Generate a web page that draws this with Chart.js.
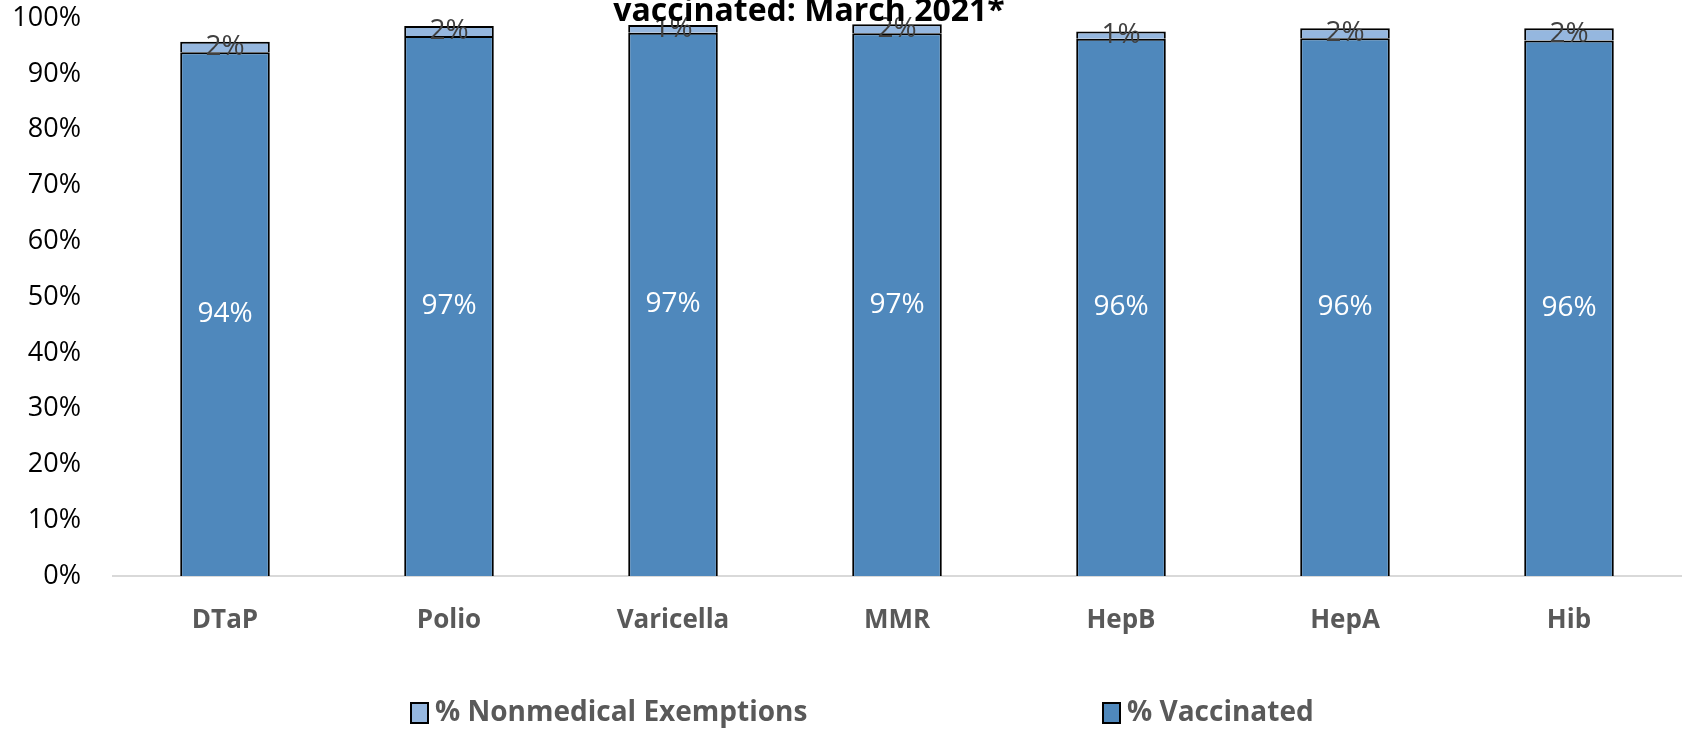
<!DOCTYPE html>
<html>
<head>
<meta charset="utf-8">
<script src="https://cdn.jsdelivr.net/npm/chart.js@4/dist/chart.umd.min.js"></script>
<style>
html, body { margin: 0; padding: 0; background: #fff; }
</style>
</head>
<body>
<canvas id="chartVaccins" width="1684" height="731"></canvas>
<script>
var titleLine = "vaccinated: March 2021*";
var categories = ["DTaP", "Polio", "Varicella", "MMR", "HepB", "HepA", "Hib"];
var vaccinated = [93.9, 96.8, 97.4, 97.3, 96.3, 96.4, 96.0];
var exemptions = [1.9, 1.8, 1.4, 1.6, 1.3, 1.8, 2.2];
var yTicks = [0, 10, 20, 30, 40, 50, 60, 70, 80, 90, 100];

var font = "'Open Sans', 'Liberation Sans', sans-serif";

// value labels in the middle of each segment
var barLabels = {
    id: "barLabels",
    afterDatasetsDraw: function (chart) {
        var ctx = chart.ctx;
        chart.data.datasets.forEach(function (ds, i) {
            var meta = chart.getDatasetMeta(i);
            meta.data.forEach(function (bar, j) {
                var p = bar.getProps(["x", "y", "base"], true);
                ctx.save();
                ctx.font = "28px " + font;
                ctx.fillStyle = ds.labelColor;
                ctx.textAlign = "center";
                ctx.textBaseline = "middle";
                ctx.fillText(Math.round(ds.data[j]) + "%", p.x, (p.y + p.base) / 2);
                ctx.restore();
            });
        });
    }
};

// clipped title line and the spread-out legend at the bottom
var titleAndLegend = {
    id: "titleAndLegend",
    afterDraw: function (chart) {
        var ctx = chart.ctx;
        ctx.save();
        ctx.font = "bold 32px " + font;
        ctx.fillStyle = "#000";
        ctx.textAlign = "center";
        ctx.textBaseline = "alphabetic";
        ctx.fillText(titleLine, 809, 21);

        var xs = [411, 1103];
        var items = chart.data.datasets.slice().reverse();
        items.forEach(function (ds, k) {
            ctx.fillStyle = ds.backgroundColor;
            ctx.fillRect(xs[k], 703, 17, 20);
            ctx.lineWidth = 2;
            ctx.strokeStyle = "#000";
            ctx.strokeRect(xs[k], 703, 17, 20);
            ctx.font = "bold 28px " + font;
            ctx.fillStyle = "#595959";
            ctx.textAlign = "left";
            ctx.textBaseline = "middle";
            ctx.fillText(ds.label, xs[k] + 24, 713);
        });
        ctx.restore();
    }
};

var ctx = document.getElementById("chartVaccins").getContext("2d");
var chart = new Chart(ctx, {
    type: "bar",
    data: {
        labels: categories,
        datasets: [
            {
                label: "% Vaccinated",
                data: vaccinated,
                backgroundColor: "#4F88BC",
                borderColor: "#000",
                borderWidth: { top: 2, left: 2, right: 2, bottom: 0 },
                borderSkipped: false,
                labelColor: "#fff"
            },
            {
                label: "% Nonmedical Exemptions",
                data: exemptions,
                backgroundColor: "#95B7DF",
                borderColor: "#000",
                borderWidth: { top: 2, left: 2, right: 2, bottom: 0 },
                borderSkipped: false,
                labelColor: "#404040"
            }
        ]
    },
    options: {
        responsive: false,
        animation: false,
        layout: { padding: { top: 0, left: 0, right: 3, bottom: 95 } },
        datasets: {
            bar: { categoryPercentage: 1, barPercentage: 0.4 }
        },
        plugins: {
            legend: { display: false },
            title: { display: false },
            tooltip: { enabled: false }
        },
        scales: {
            x: {
                stacked: true,
                z: 1,
                grid: { display: false },
                border: { display: true, color: "#D9D9D9", width: 2 },
                afterFit: function (scale) { scale.height = 60; },
                ticks: {
                    padding: 21,
                    color: "#595959",
                    font: { family: font, size: 26, weight: "bold" }
                }
            },
            y: {
                stacked: true,
                min: 0,
                max: 100,
                grid: { display: false, tickLength: 30 },
                border: { display: false },
                afterFit: function (scale) { scale.width = 113; },
                afterBuildTicks: function (scale) {
                    scale.ticks = yTicks.map(function (v) { return { value: v }; });
                },
                ticks: {
                    padding: 2,
                    color: "#000",
                    font: { family: font, size: 27 },
                    callback: function (v) { return v + "%"; }
                }
            }
        }
    },
    plugins: [barLabels, titleAndLegend]
});
</script>
</body>
</html>
